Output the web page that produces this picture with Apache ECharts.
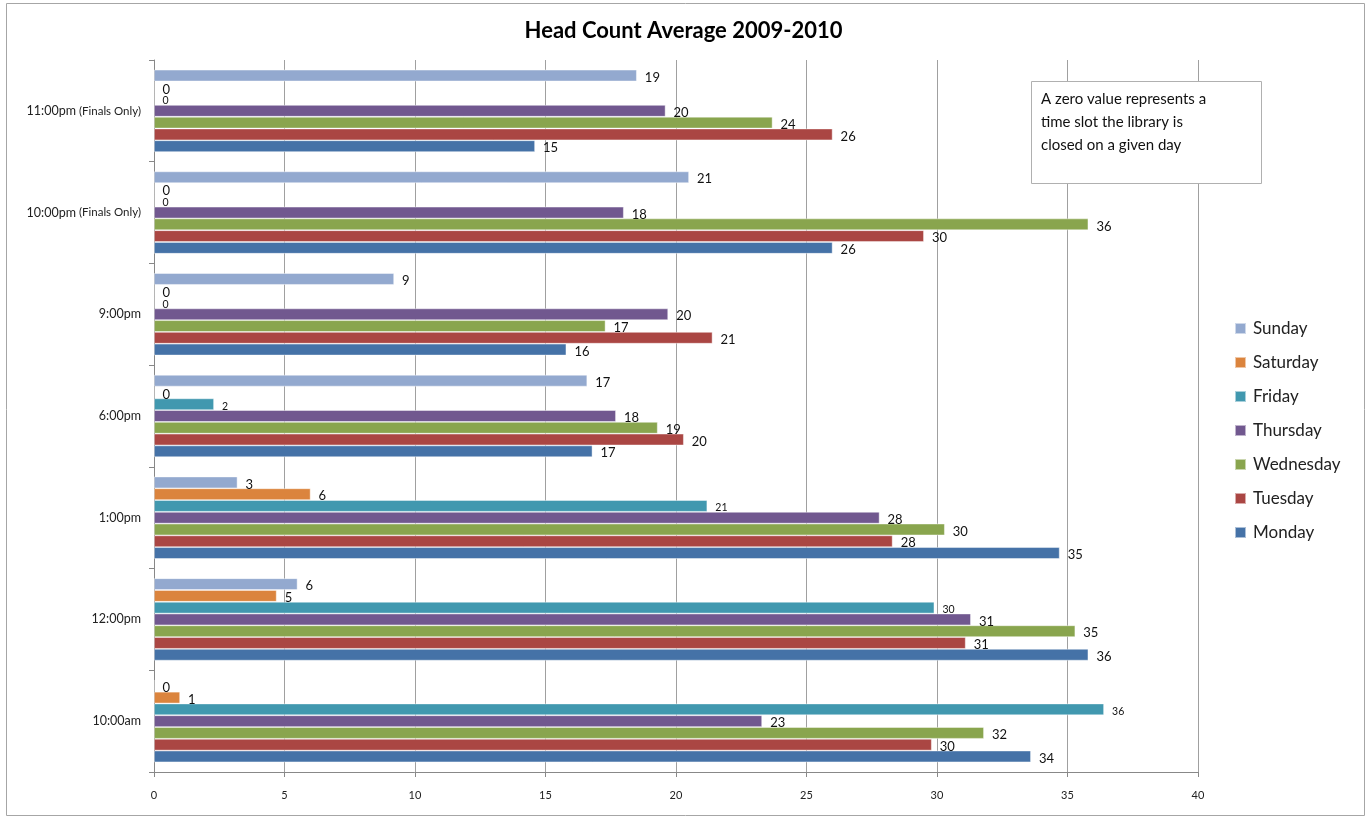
<!DOCTYPE html>
<html>
<head>
<meta charset="utf-8">
<title>Head Count Average 2009-2010</title>
<script src="https://cdn.jsdelivr.net/npm/echarts@6/dist/echarts.min.js"></script>
<style>
  html, body { margin: 0; padding: 0; background: #fff; }
  #chart { width: 1367px; height: 819px; }
</style>
</head>
<body>
<div id="chart"></div>
<script>
// time slots, bottom to top
const categories = ['10:00am', '12:00pm', '1:00pm', '6:00pm', '9:00pm', '10:00pm (Finals Only)', '11:00pm (Finals Only)']
const days = ['Monday', 'Tuesday', 'Wednesday', 'Thursday', 'Friday', 'Saturday', 'Sunday']
const xTicks = [0, 5, 10, 15, 20, 25, 30, 35, 40]

// averages per day, same order as categories
const monday    = [33.6, 35.8, 34.7, 16.8, 15.8, 26.0, 14.6]
const tuesday   = [29.8, 31.1, 28.3, 20.3, 21.4, 29.5, 26.0]
const wednesday = [31.8, 35.3, 30.3, 19.3, 17.3, 35.8, 23.7]
const thursday  = [23.3, 31.3, 27.8, 17.7, 19.7, 18.0, 19.6]
const friday    = [36.4, 29.9, 21.2, 2.3, 0, 0, 0]
const saturday  = [1.0, 4.7, 6.0, 0, 0, 0, 0]
const sunday    = [0, 5.5, 3.2, 16.6, 9.2, 20.5, 18.5]

const values = [monday, tuesday, wednesday, thursday, friday, saturday, sunday]
const COLORS = ['#4572a7', '#aa4643', '#89a54e', '#71588f', '#4198af', '#db843d', '#93a9cf']
const FONT = 'Lato, "Open Sans", sans-serif'

const chart = echarts.init(document.getElementById('chart'), null, { renderer: 'canvas' })

// ECharts stacks the first series at the top of each group, so feed Sunday first
const order = [6, 5, 4, 3, 2, 1, 0]

chart.setOption({
  animation: false,
  textStyle: { fontFamily: FONT },
  title: {
    text: 'Head Count Average 2009-2010',
    left: 'center', top: 15,
    textStyle: { fontSize: 22, fontWeight: 'bold', color: '#000', fontFamily: FONT },
  },
  legend: {
    data: days.slice().reverse(),
    orient: 'vertical',
    left: 1229, top: 315,
    icon: 'rect', itemWidth: 11, itemHeight: 11, itemGap: 17,
    textStyle: { fontSize: 17, color: '#222', fontFamily: FONT, padding: [0, 0, 0, 2] },
  },
  grid: { left: 154, right: 169, top: 60, bottom: 47, containLabel: false },
  xAxis: {
    type: 'value', min: 0, max: 40, interval: 5,
    axisLine: { show: true, lineStyle: { color: '#888' } },
    axisTick: { show: true, length: 5, lineStyle: { color: '#888' } },
    axisLabel: { color: '#222', fontSize: 11, margin: 18,
      formatter: (v) => xTicks.includes(v) ? String(v) : '' },
    splitLine: { show: true, lineStyle: { color: '#a0a0a0', width: 1 } },
  },
  yAxis: {
    type: 'category', data: categories,
    axisLine: { show: true, lineStyle: { color: '#888' } },
    axisTick: { show: true, length: 5, inside: false, lineStyle: { color: '#888' } },
    axisLabel: {
      color: '#222', margin: 13,
      formatter: (v) => {
        const i = v.indexOf(' (')
        return i < 0 ? '{a|' + v + '}' : '{a|' + v.slice(0, i) + '}{b| ' + v.slice(i + 1) + '}'
      },
      rich: {
        a: { fontSize: 12.5, color: '#222', fontFamily: FONT },
        b: { fontSize: 11.5, color: '#222', fontFamily: FONT },
      },
    },
  },
  graphic: [
    { type: 'rect', left: 4, top: 1, z: -10, silent: true,
      shape: { width: 1358, height: 812 },
      style: { fill: 'none', stroke: '#a6a6a6', lineWidth: 1 } },
    { type: 'rect', left: 1031, top: 81, z: 100,
      shape: { width: 230, height: 102 },
      style: { fill: '#fff', stroke: '#b0b0b0', lineWidth: 1 } },
    { type: 'text', left: 1041, top: 88, z: 101,
      style: { text: 'A zero value represents a\ntime slot the library is\nclosed on a given day',
        font: '15px ' + FONT, fill: '#111', lineHeight: 23 } },
  ],
  series: order.map((i) => ({
    name: days[i], type: 'bar',
    data: values[i],
    barGap: '0%', barCategoryGap: '19%',
    itemStyle: { color: COLORS[i], borderColor: 'rgba(255,255,255,0.55)', borderWidth: 0.8 },
    label: {
      show: true, position: 'right', distance: 8,
      color: '#111', fontSize: days[i] === 'Friday' ? 10.5 : 13, fontFamily: FONT,
      offset: [0, 2],
      formatter: (p) => String(Math.round(p.value)),
    },
  })),
})
</script>
</body>
</html>
